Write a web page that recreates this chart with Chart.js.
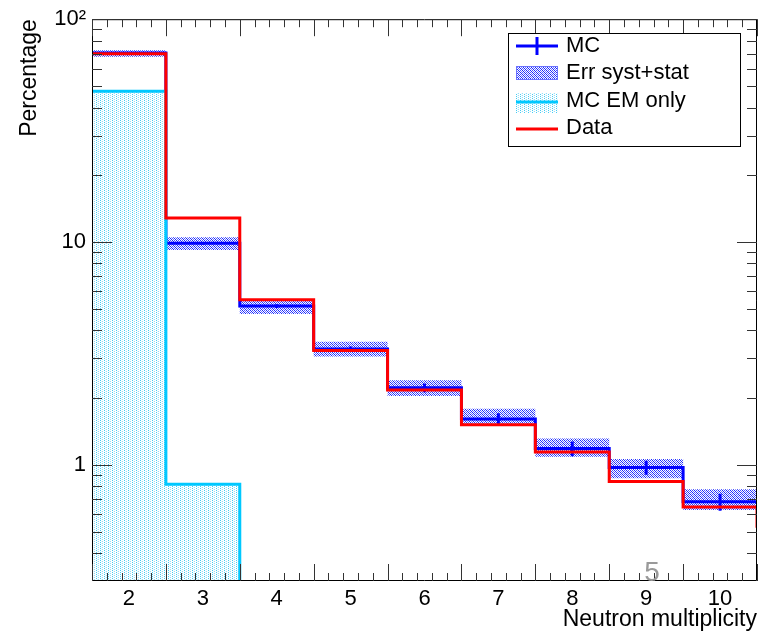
<!DOCTYPE html>
<html>
<head>
<meta charset="utf-8">
<script src="https://cdn.jsdelivr.net/npm/chart.js@4.4.1/dist/chart.umd.min.js"></script>
<style>
  html, body { margin: 0; padding: 0; background: #fff; }
</style>
</head>
<body>
<canvas id="chartHist" width="765" height="631"></canvas>
<script>
Chart.defaults.animation = false;
Chart.defaults.font.family = '"Liberation Sans", Arial, sans-serif';
Chart.defaults.color = '#000';

// bin centres (neutron multiplicity) and values in percent
const bins = [2, 3, 4, 5, 6, 7, 8, 9, 10];
const mcValues = [70.5, 9.85, 5.15, 3.3, 2.21, 1.60, 1.18, 0.97, 0.68];
const mcStatErr = [0.6, 0.15, 0.1, 0.09, 0.1, 0.1, 0.09, 0.07, 0.06];
const errLow = [67.8, 9.2, 4.75, 3.06, 2.03, 1.50, 1.085, 0.867, 0.625];
const errHigh = [72.5, 10.5, 5.45, 3.56, 2.39, 1.78, 1.31, 1.06, 0.775];
const emOnly = [47.5, 0.815, 0, 0, 0, 0, 0, 0, 0];
// data continues one bin past the visible range (only its edge shows)
const dataBins = [2, 3, 4, 5, 6, 7, 8, 9, 10, 11];
const dataValues = [70, 12.8, 5.5, 3.25, 2.16, 1.51, 1.14, 0.84, 0.644, 0.52];

const yTickValues = [1, 10, 100];
const yTickLabels = ['1', '10', '10\u00B2'];

const Y_MIN = 0.318;
const Y_MAX = 100;
const X_MIN = 1.5;
const X_MAX = 10.5;
const BELOW = Y_MIN / 2; // empty bins drawn under the axis, so they get clipped

const BLUE = '#0000ff';
const RED = '#ff0000';
const CYAN = '#00c8ff';

// histogram outline: two points per bin (low edge, high edge)
function steps(xs, ys) {
  const pts = [];
  xs.forEach((x, i) => {
    const v = ys[i] > 0 ? ys[i] : BELOW;
    pts.push({ x: x - 0.5, y: v }, { x: x + 0.5, y: v });
  });
  return pts;
}

function errorBars(xs, ys, es) {
  const pts = [];
  xs.forEach((x, i) => {
    pts.push({ x: x, y: ys[i] - es[i] }, { x: x, y: ys[i] + es[i] }, { x: x, y: null });
  });
  return pts;
}

function makePattern(w, h, bg, dots) {
  const c = document.createElement('canvas');
  c.width = w; c.height = h;
  const g = c.getContext('2d');
  if (bg) { g.fillStyle = bg; g.fillRect(0, 0, w, h); }
  dots.forEach(([x, y, col]) => { g.fillStyle = col; g.fillRect(x, y, 1, 1); });
  return g.createPattern(c, 'repeat');
}

const cvs = document.getElementById('chartHist');
const ctxHist = cvs.getContext('2d');

// light cyan dotted columns
const cyanFill = makePattern(4, 2, '#ffffff', [
  [0, 0, '#45ccf3'], [2, 1, '#95e0f9'], [1, 1, '#e6f8fe']
]);
// dense blue dotted crosshatch
const bandFill = makePattern(4, 4, '#ffffff', [
  [0, 0, '#1a28ff'], [2, 0, '#4a55ff'], [1, 1, '#1a28ff'], [3, 1, '#6f78ff'],
  [0, 2, '#4a55ff'], [2, 2, '#1a28ff'], [1, 3, '#6f78ff'], [3, 3, '#1a28ff']
]);

// frame with ROOT-like inward ticks on all four sides
const frameTicks = {
  id: 'frameTicks',
  afterDatasetsDraw(chart) {
    const { ctx, chartArea: a, scales: { x, y } } = chart;
    ctx.save();
    ctx.strokeStyle = '#000';
    ctx.lineWidth = 1;
    ctx.beginPath();
    ctx.rect(a.left + 0.5, a.top + 0.5, a.right - a.left - 1, a.bottom - a.top - 1);
    ctx.stroke();

    ctx.strokeStyle = '#333';
    ctx.beginPath();
    for (let k = 0; k <= 45; k++) {
      const px = Math.round(x.getPixelForValue(X_MIN + k * 0.2)) + 0.5;
      const len = k % 5 === 0 ? 17 : 8;
      ctx.moveTo(px, a.bottom); ctx.lineTo(px, a.bottom - len);
      ctx.moveTo(px, a.top); ctx.lineTo(px, a.top + len);
    }
    for (let e = -1; e <= 2; e++) {
      for (let d = 1; d <= 9; d++) {
        const v = d * Math.pow(10, e);
        if (v < Y_MIN || v > Y_MAX) continue;
        const py = Math.round(y.getPixelForValue(v)) + 0.5;
        const len = d === 1 ? 20 : 10;
        ctx.moveTo(a.left, py); ctx.lineTo(a.left + len, py);
        ctx.moveTo(a.right, py); ctx.lineTo(a.right - len, py);
      }
    }
    ctx.stroke();

    // slide number
    ctx.fillStyle = '#9a9a9a';
    ctx.font = '28px "Liberation Sans", Arial, sans-serif';
    ctx.textAlign = 'center';
    ctx.textBaseline = 'middle';
    ctx.fillText('5', 652, 573);
    ctx.restore();
  }
};

// ROOT-style legend box
const rootLegend = {
  id: 'rootLegend',
  afterDraw(chart) {
    const { ctx } = chart;
    const bx = 508, by = 33, bw = 232, bh = 113;
    ctx.save();
    ctx.fillStyle = '#fff';
    ctx.fillRect(bx, by, bw, bh);
    ctx.strokeStyle = '#000';
    ctx.lineWidth = 1;
    ctx.strokeRect(bx + 0.5, by + 0.5, bw, bh);

    const sx0 = 516, sx1 = 558;
    // MC
    ctx.strokeStyle = BLUE; ctx.lineWidth = 3;
    ctx.beginPath();
    ctx.moveTo(sx0, 46); ctx.lineTo(sx1, 46);
    ctx.moveTo(537, 37); ctx.lineTo(537, 55);
    ctx.stroke();
    // Err syst+stat
    ctx.fillStyle = bandFill;
    ctx.fillRect(sx0, 66, sx1 - sx0, 14);
    ctx.strokeStyle = '#6a72ff'; ctx.lineWidth = 1;
    ctx.strokeRect(sx0 + 0.5, 66.5, sx1 - sx0 - 1, 13);
    // MC EM only
    ctx.fillStyle = cyanFill;
    ctx.fillRect(sx0, 93, sx1 - sx0, 20);
    ctx.strokeStyle = CYAN; ctx.lineWidth = 3;
    ctx.beginPath(); ctx.moveTo(sx0, 102); ctx.lineTo(sx1, 102); ctx.stroke();
    // Data
    ctx.strokeStyle = RED;
    ctx.beginPath(); ctx.moveTo(sx0, 129); ctx.lineTo(sx1, 129); ctx.stroke();

    ctx.fillStyle = '#000';
    ctx.font = '22px "Liberation Sans", Arial, sans-serif';
    ctx.textAlign = 'left';
    ctx.textBaseline = 'middle';
    ctx.fillText('MC', 566, 46);
    ctx.fillText('Err syst+stat', 566, 73);
    ctx.fillText('MC EM only', 566, 101);
    ctx.fillText('Data', 566, 128);
    ctx.restore();
  }
};

new Chart(ctxHist, {
  type: 'line',
  data: {
    datasets: [
      {
        label: 'Data',
        data: steps(dataBins, dataValues),
        borderColor: RED,
        borderWidth: 3,
        pointRadius: 0,
        fill: false
      },
      {
        label: 'MC stat',
        data: errorBars(bins, mcValues, mcStatErr),
        borderColor: BLUE,
        borderWidth: 3,
        pointRadius: 0,
        spanGaps: false,
        fill: false
      },
      {
        label: 'MC EM only',
        data: steps(bins, emOnly),
        borderColor: CYAN,
        borderWidth: 3,
        pointRadius: 0,
        backgroundColor: cyanFill,
        fill: 'start',
        segment: {
          borderColor: c => (c.p0.parsed.y < Y_MIN && c.p1.parsed.y < Y_MIN) ? 'rgba(0,0,0,0)' : CYAN
        }
      },
      {
        label: 'MC',
        data: steps(bins, mcValues),
        borderColor: BLUE,
        borderWidth: 3,
        pointRadius: 0,
        fill: false
      },
      {
        label: 'Err high',
        data: steps(bins, errHigh),
        borderWidth: 0,
        borderColor: 'rgba(0,0,0,0)',
        pointRadius: 0,
        fill: false
      },
      {
        label: 'Err syst+stat',
        data: steps(bins, errLow),
        borderWidth: 0,
        borderColor: 'rgba(0,0,0,0)',
        pointRadius: 0,
        backgroundColor: bandFill,
        fill: '-1'
      }
    ]
  },
  options: {
    responsive: false,
    animation: false,
    layout: { padding: { top: 18, right: 8, left: 0, bottom: 0 } },
    plugins: {
      legend: { display: false },
      tooltip: { enabled: false }
    },
    scales: {
      x: {
        type: 'linear',
        min: X_MIN,
        max: X_MAX,
        afterBuildTicks: s => { s.ticks = bins.map(v => ({ value: v })); },
        ticks: { font: { size: 22 }, color: '#000', padding: 5, maxRotation: 0, autoSkip: false },
        grid: { display: false, drawTicks: false },
        border: { display: false },
        title: {
          display: true,
          text: 'Neutron multiplicity',
          align: 'end',
          color: '#000',
          font: { size: 23 },
          padding: { top: 0, bottom: -2 }
        },
        afterFit: s => { s.height = 50; }
      },
      y: {
        type: 'logarithmic',
        min: Y_MIN,
        max: Y_MAX,
        afterBuildTicks: s => { s.ticks = yTickValues.map(v => ({ value: v })); },
        ticks: {
          font: { size: 22 },
          color: '#000',
          padding: 6,
          autoSkip: false,
          callback: v => yTickLabels[yTickValues.indexOf(v)]
        },
        grid: { display: false, drawTicks: false },
        border: { display: false },
        title: {
          display: true,
          text: 'Percentage',
          align: 'end',
          color: '#000',
          font: { size: 23 },
          padding: { top: 16, bottom: 0 }
        },
        afterFit: s => { s.width = 92; }
      }
    }
  },
  plugins: [frameTicks, rootLegend]
});
</script>
</body>
</html>
